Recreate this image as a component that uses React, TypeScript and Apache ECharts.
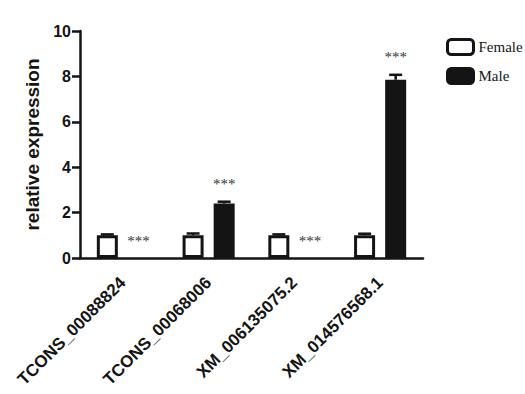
import React, { useEffect, useRef } from "react";
import * as echarts from "echarts";

const categories = ["TCONS_00088824", "TCONS_00068006", "XM_006135075.2", "XM_014576568.1"];
const femaleValues = [1.0, 1.0, 1.0, 1.0];
const femaleErrors = [0.04, 0.08, 0.04, 0.07];
const maleValues = [0, 2.4, 0, 7.85];
const maleErrors = [0, 0.08, 0, 0.22];
const significance = ["***", "***", "***", "***"];
const yMin = 0;
const yMax = 10;
const yInterval = 2;

const BAR_W = 21;
const BAR_GAP = 0.48;
const INK = "#141414";

function makeErrSeries(name: string, values: number[], errors: number[], sign: number, labels: string[] | null) {
  return {
    type: "custom",
    name,
    silent: true,
    z: 5,
    clip: false,
    data: values.map((v, i) => [i, v, errors[i]]),
    renderItem: (params: any, api: any) => {
      const i = api.value(0);
      const v = api.value(1);
      const e = api.value(2);
      const off = (sign * (BAR_W * (1 + BAR_GAP))) / 2;
      const base = api.coord([i, v]);
      const top = api.coord([i, v + e]);
      const x = base[0] + off;
      const children: any[] = [];
      if (e > 0) {
        children.push({
          type: "line",
          shape: { x1: x, y1: base[1], x2: x, y2: top[1] },
          style: { stroke: INK, lineWidth: 2.5 },
        });
        children.push({
          type: "line",
          shape: { x1: x - 6.5, y1: top[1], x2: x + 6.5, y2: top[1] },
          style: { stroke: INK, lineWidth: 2.5 },
        });
      }
      const lab = labels ? labels[params.dataIndex] : "";
      if (lab) {
        children.push({
          type: "text",
          x,
          y: top[1] - 10,
          style: {
            text: lab,
            fontFamily: "Liberation Serif",
            fontSize: 15,
            fill: "#333",
            align: "center",
            verticalAlign: "bottom",
          },
        });
      }
      return { type: "group", children };
    },
  };
}

export default function App() {
  const ref = useRef<HTMLDivElement>(null);
  useEffect(() => {
    if (!ref.current) return;
    const chart = echarts.init(ref.current, null, { renderer: "svg" });
    const axisFont = { fontFamily: "Liberation Sans", fontWeight: "bold", color: INK };
    chart.setOption({
      animation: false,
      backgroundColor: "#ffffff",
      grid: { left: 80, right: 102, top: 31, bottom: 136 },
      legend: {
        data: ["Female", "Male"],
        orient: "vertical",
        left: 441,
        top: 33,
        itemWidth: 26,
        itemHeight: 15,
        itemGap: 11,
        icon: "roundRect",
        itemStyle: { borderWidth: 3 },
        textStyle: { fontFamily: "Liberation Serif", fontSize: 15, color: INK },
      },
      xAxis: {
        type: "category",
        data: categories,
        axisLine: { lineStyle: { color: INK, width: 2.5 } },
        axisTick: { alignWithLabel: true, length: 7, lineStyle: { color: INK, width: 2.5 } },
        axisLabel: { ...axisFont, fontSize: 17, rotate: 45, margin: 22, interval: 0 },
      },
      yAxis: {
        type: "value",
        min: yMin,
        max: yMax,
        interval: yInterval,
        name: "relative expression",
        nameLocation: "middle",
        nameGap: 36,
        nameTextStyle: { ...axisFont, fontSize: 19 },
        axisLine: { show: true, lineStyle: { color: INK, width: 2.5 } },
        axisTick: { show: true, length: 8, lineStyle: { color: INK, width: 2.5 } },
        axisLabel: { ...axisFont, fontSize: 16, margin: 9 },
        splitLine: { show: false },
      },
      series: [
        {
          type: "bar",
          name: "Female",
          barWidth: BAR_W,
          barGap: BAR_GAP * 100 + "%",
          data: femaleValues,
          itemStyle: { color: "#ffffff", borderColor: INK, borderWidth: 3 },
        },
        {
          type: "bar",
          name: "Male",
          barWidth: BAR_W,
          barGap: BAR_GAP * 100 + "%",
          data: maleValues.map((v) => (v === 0 ? { value: v, itemStyle: { borderWidth: 0 } } : v)),
          itemStyle: { color: INK, borderColor: INK, borderWidth: 3 },
        },
        makeErrSeries("FemaleErr", femaleValues, femaleErrors, -1, null),
        makeErrSeries("MaleErr", maleValues, maleErrors, 1, significance),
      ],
    });
    return () => chart.dispose();
  }, []);
  return (
    <div
      ref={ref}
      style={{ position: "fixed", left: 0, top: 0, width: 525, height: 394, background: "#fff" }}
    />
  );
}
